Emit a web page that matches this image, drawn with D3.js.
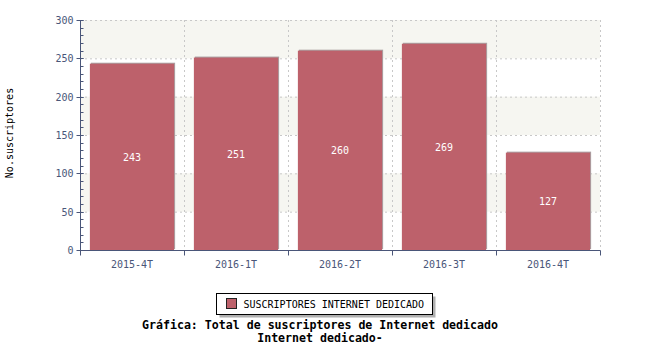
<!DOCTYPE html>
<html>
<head>
<meta charset="utf-8">
<script src="https://cdn.jsdelivr.net/npm/d3@7"></script>
<style>
body { margin: 0; background: #fff; }
text { font-family: "DejaVu Sans Mono", monospace; }
</style>
</head>
<body>
<div id="chart"></div>
<script>
var categories = ["2015-4T", "2016-1T", "2016-2T", "2016-3T", "2016-4T"];
var values = [243, 251, 260, 269, 127];
var yTicks = [0, 50, 100, 150, 200, 250, 300];
var seriesName = "SUSCRIPTORES INTERNET DEDICADO";
var yTitle = "No.suscriptores";
var titleLines = ["Gráfica: Total de suscriptores de Internet dedicado", "Internet dedicado-"];

var margin = {top: 20, right: 50, bottom: 100, left: 80},
    width = 650 - margin.left - margin.right,
    height = 350 - margin.top - margin.bottom;

var svg = d3.select("#chart").append("svg").attr("width", 650).attr("height", 350);
var g = svg.append("g").attr("transform", "translate(" + margin.left + "," + margin.top + ")");

var x = d3.scaleBand().domain(categories).range([0, width]).paddingInner(0.19).paddingOuter(0.095);
var xb = d3.scaleBand().domain(categories).range([0, width]);
var y = d3.scaleLinear().domain([0, 300]).range([height, 0]);

// alternating bands
for (var i = 0; i < yTicks.length - 1; i++) {
    if ((yTicks.length - 2 - i) % 2 == 0) {
        g.append("rect").attr("x", 0).attr("width", width)
            .attr("y", y(yTicks[i + 1])).attr("height", y(yTicks[i]) - y(yTicks[i + 1]))
            .attr("fill", "#f6f6f1");
    }
}
// grid lines
g.selectAll(".hgrid").data(yTicks.slice(1)).enter().append("line")
    .attr("x1", 0).attr("x2", width).attr("y1", function(d) { return y(d) + 0.5; }).attr("y2", function(d) { return y(d) + 0.5; })
    .attr("stroke", "#c8c8c8").attr("stroke-dasharray", "2,3");
g.selectAll(".vgrid").data(categories).enter().append("line")
    .attr("x1", function(d) { return xb(d) + xb.bandwidth() + 0.5; }).attr("x2", function(d) { return xb(d) + xb.bandwidth() + 0.5; })
    .attr("y1", 0).attr("y2", height)
    .attr("stroke", "#c8c8c8").attr("stroke-dasharray", "2,3");

// bars with shadow
g.selectAll(".shadow").data(values).enter().append("rect")
    .attr("x", function(d, i) { return x(categories[i]) + 1; })
    .attr("y", function(d) { return y(d) - 1; })
    .attr("width", x.bandwidth()).attr("height", function(d) { return height - y(d); })
    .attr("fill", "#aba1a3");
g.selectAll(".bar").data(values).enter().append("rect")
    .attr("x", function(d, i) { return x(categories[i]); })
    .attr("y", function(d) { return y(d); })
    .attr("width", x.bandwidth()).attr("height", function(d) { return height - y(d); })
    .attr("fill", "#bd616b");
g.selectAll(".vlabel").data(values).enter().append("text")
    .attr("x", function(d, i) { return x(categories[i]) + x.bandwidth() / 2; })
    .attr("y", function(d) { return (y(d) + height) / 2 + 4; })
    .attr("text-anchor", "middle").attr("fill", "#fff").attr("font-size", "10px")
    .text(function(d) { return d; });

var axisColor = "#4a5679";
// y axis
var yAxis = g.append("g").attr("transform", "translate(0.5,0)");
yAxis.append("line").attr("y1", 0).attr("y2", height + 0.5).attr("stroke", axisColor);
yAxis.selectAll(".minor").data(d3.range(0, 301, 10)).enter().append("line")
    .attr("x1", 0).attr("x2", 3).attr("y1", function(d) { return Math.round(y(d)) + 0.5; }).attr("y2", function(d) { return Math.round(y(d)) + 0.5; })
    .attr("stroke", axisColor);
yAxis.selectAll(".major").data(yTicks).enter().append("line")
    .attr("x1", -4).attr("x2", 3).attr("y1", function(d) { return Math.round(y(d)) + 0.5; }).attr("y2", function(d) { return Math.round(y(d)) + 0.5; })
    .attr("stroke", axisColor);
yAxis.selectAll(".ylab").data(yTicks).enter().append("text")
    .attr("x", -7).attr("y", function(d) { return y(d) + 4; })
    .attr("text-anchor", "end").attr("fill", axisColor).attr("font-size", "10px")
    .text(function(d) { return d; });

// x axis
var xAxis = g.append("g").attr("transform", "translate(0," + (height + 0.5) + ")");
xAxis.append("line").attr("x1", 0).attr("x2", width + 0.5).attr("stroke", axisColor);
xAxis.selectAll(".xt").data([0].concat(categories.map(function(c) { return xb(c) + xb.bandwidth(); }))).enter().append("line")
    .attr("x1", function(d) { return d + 0.5; }).attr("x2", function(d) { return d + 0.5; })
    .attr("y1", 0).attr("y2", 5).attr("stroke", axisColor);
xAxis.selectAll(".xlab").data(categories).enter().append("text")
    .attr("x", function(d) { return xb(d) + xb.bandwidth() / 2; }).attr("y", 17)
    .attr("text-anchor", "middle").attr("fill", axisColor).attr("font-size", "10px")
    .text(function(d) { return d; });

// y title
svg.append("text").attr("transform", "translate(13," + (margin.top + height / 2 - 2) + ") rotate(-90)")
    .attr("text-anchor", "middle").attr("font-size", "10px").attr("fill", "#000").text(yTitle);

// legend
var lg = svg.append("g").attr("transform", "translate(216.5,293.5)");
lg.append("rect").attr("x", 3).attr("y", 3).attr("width", 216).attr("height", 21).attr("fill", "#b0b0b0");
lg.append("rect").attr("width", 216).attr("height", 21).attr("fill", "#fff").attr("stroke", "#000");
lg.append("rect").attr("x", 10).attr("y", 5).attr("width", 10).attr("height", 10).attr("fill", "#bd616b").attr("stroke", "#222");
lg.append("text").attr("x", 27).attr("y", 14.5).attr("font-size", "10px").attr("fill", "#000").text(seriesName);

// title
svg.selectAll(".title").data(titleLines).enter().append("text")
    .attr("x", 320).attr("y", function(d, i) { return 329 + i * 13; })
    .attr("text-anchor", "middle").attr("font-size", "11.6px").attr("font-weight", "bold").attr("fill", "#000")
    .text(function(d) { return d; });
</script>
</body>
</html>
